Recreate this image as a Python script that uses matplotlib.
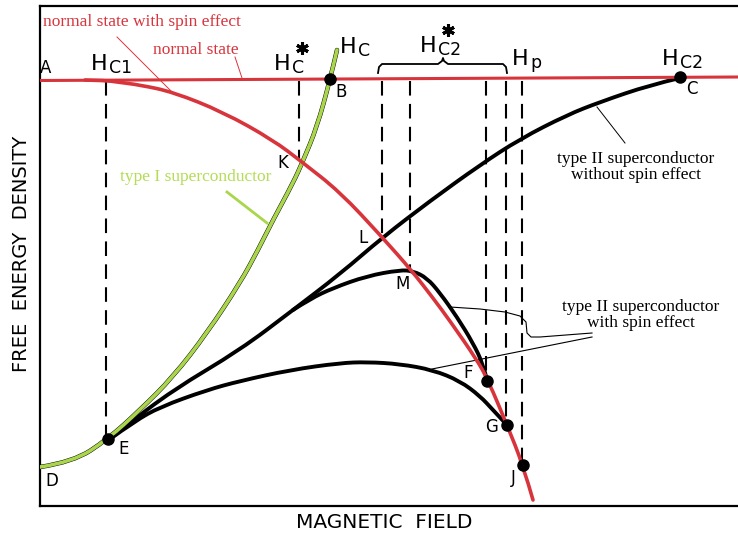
import matplotlib.pyplot as plt
from matplotlib.path import Path
from matplotlib.patches import PathPatch

# =========================
# DATA (x = field, y = energy, screen units)
# =========================
normal_x = [40, 738]
normal_y = [80.5, 77]

spin_normal_x = [85, 106, 117, 140, 173, 223, 273, 302, 340, 382, 412, 433, 450, 477, 488, 507, 523, 533]
spin_normal_y = [80, 80.5, 82, 85, 92, 112, 140, 162, 192, 237, 271, 298, 321, 360, 380, 425, 465, 500]

type1_x = [40, 73, 108, 140, 173, 207, 240, 258, 273, 293, 303, 317, 330, 337]
type1_y = [467, 462, 439, 410, 377, 333, 283, 250, 220, 183, 161, 127, 80, 50]

type2_x = [110, 123, 173, 240, 293, 340, 383, 430, 480, 520, 567, 600, 650, 680]
type2_y = [439, 428, 390, 350, 310, 274, 237, 201, 165, 139, 115, 102, 85, 78]

spin_up_x = [293, 310, 333, 367, 400, 413, 427, 440, 457, 473, 483, 487]
spin_up_y = [310, 299, 288, 276, 270, 271, 278, 293, 317, 343, 364, 380]

spin_low_x = [110, 135, 160, 207, 240, 290, 340, 367, 400, 433, 460, 480, 493, 507]
spin_low_y = [439, 421, 407, 390, 381, 370, 363, 362, 364, 370, 381, 396, 410, 425]

# marked points
dot_names = ["B", "E", "F", "G", "J", "C"]
dot_x = [330, 108, 487, 507, 523, 680]
dot_y = [79, 439, 381, 425, 465, 77]

# vertical dashed guides (field, lower end)
guide_x = [106, 299, 382, 410, 486, 506, 522]
guide_y = [438, 160, 237, 270, 380, 425, 465]

# point letters
letters = ["A", "B", "C", "D", "E", "F", "G", "J", "K", "L", "M"]
letter_x = [46, 341, 692, 52, 124, 468, 492, 513, 283, 363, 403]
letter_y = [68, 92, 89, 481, 449, 373, 427, 478, 163, 238, 284]

# field labels: H + subscript
field_sub = ["C1", "C", "C", "C2", "p", "C2"]
field_x = [91, 274, 340, 420, 512, 662]
field_y = [70, 70, 53, 52, 65, 65]
field_star = [False, True, False, True, False, False]

RED = "#d8343c"
GREEN = "#a9d64b"
GREEN_TXT = "#b4dc55"


def smooth(ax, xs, ys, **kw):
    # quadratic bezier through the midpoints of the read points
    pts = list(zip(xs, ys))
    verts = [pts[0]]
    codes = [Path.MOVETO]
    for i in range(1, len(pts) - 1):
        mid = ((pts[i][0] + pts[i + 1][0]) / 2, (pts[i][1] + pts[i + 1][1]) / 2)
        if i == len(pts) - 2:
            mid = pts[-1]
        verts += [pts[i], mid]
        codes += [Path.CURVE3, Path.CURVE3]
    ax.add_patch(PathPatch(Path(verts, codes), fill=False, capstyle="round", **kw))


fig = plt.figure(figsize=(7.38, 5.44), dpi=100)
ax = fig.add_axes([40 / 738, 38 / 544, 698 / 738, 500 / 544])
ax.set_xlim(40, 738)
ax.set_ylim(506, 6)
ax.set_xticks([])
ax.set_yticks([])
ax.spines["right"].set_visible(False)
for s in ["left", "top", "bottom"]:
    ax.spines[s].set_linewidth(1.6)

# dashed guides
for gx, gy in zip(guide_x, guide_y):
    ax.plot([gx, gx], [81, gy], color="black", lw=1.5, ls=(0, (7, 4)), zorder=1)

# curves
smooth(ax, type2_x, type2_y, edgecolor="black", lw=2.8, zorder=2)
smooth(ax, spin_up_x, spin_up_y, edgecolor="black", lw=2.8, zorder=2)
smooth(ax, spin_low_x, spin_low_y, edgecolor="black", lw=2.8, zorder=2)
smooth(ax, type1_x, type1_y, edgecolor="black", lw=3.2, zorder=2)
smooth(ax, type1_x, type1_y, edgecolor=GREEN, lw=2.6, zorder=3)
ax.plot(normal_x, normal_y, color=RED, lw=2.2, zorder=3)
smooth(ax, spin_normal_x, spin_normal_y, edgecolor=RED, lw=2.6, zorder=4)

ax.plot(dot_x, dot_y, "o", color="black", ms=8, zorder=5)

# letters
for t, lx, ly in zip(letters, letter_x, letter_y):
    ax.text(lx, ly, t, fontsize=12, ha="center", va="center", clip_on=False)

for sub, fx, fy, star in zip(field_sub, field_x, field_y, field_star):
    ax.text(fx, fy, "H", fontsize=16, ha="left", va="baseline", clip_on=False)
    ax.text(fx + 18, fy + 3, sub, fontsize=12.5, ha="left", va="baseline", clip_on=False)
    if star:
        ax.plot(fx + 28, fy - 22, marker=(6, 2, 0), ms=9, mew=2.2, color="black", clip_on=False)

# bracket over Hc2*
br_x = [378, 379, 382, 438, 442, 443, 444, 448, 503, 506, 507]
br_y = [73, 67, 64, 64, 61, 58, 61, 64, 64, 67, 73]
ax.plot(br_x, br_y, color="black", lw=1.3, clip_on=False)

# annotations
serif = "Liberation Serif"
ax.text(43, 22, "normal state with spin effect", color=RED, family=serif, fontsize=12.5, ha="left", va="center", clip_on=False)
ax.plot([117, 172], [37, 92], color=RED, lw=0.7, zorder=4)
ax.text(153, 50, "normal state", color=RED, family=serif, fontsize=12.5, ha="left", va="center", clip_on=False)
ax.plot([235, 242], [57, 78], color=RED, lw=0.7, zorder=4)

ax.text(120, 177, "type I superconductor", color=GREEN_TXT, family=serif, fontsize=12.5, ha="left", va="center")
ax.plot([227, 267], [192, 223], color=GREEN, lw=2, zorder=4)

ax.text(636, 167, "type II superconductor\nwithout spin effect", family=serif, fontsize=12.5,
        ha="center", va="center", linespacing=1.05)
ax.plot([597, 625], [107, 143], color="black", lw=0.7)

ax.text(641, 315, "type II superconductor\nwith spin effect", family=serif, fontsize=12.5,
        ha="center", va="center", linespacing=1.05)
lead_x = [450, 480, 505, 520, 526, 527, 531, 540, 592]
lead_y = [307, 309, 312, 316, 322, 333, 337, 337, 333]
ax.plot(lead_x, lead_y, color="black", lw=0.8)
ax.plot([432, 592], [369, 337], color="black", lw=0.8)

# axis titles
ax.text(22, 254, "FREE  ENERGY  DENSITY", rotation=90, fontsize=14, ha="center", va="center", clip_on=False)
ax.text(384, 522, "MAGNETIC  FIELD", fontsize=14.5, ha="center", va="center", clip_on=False)

plt.savefig("out.png", dpi=100)
